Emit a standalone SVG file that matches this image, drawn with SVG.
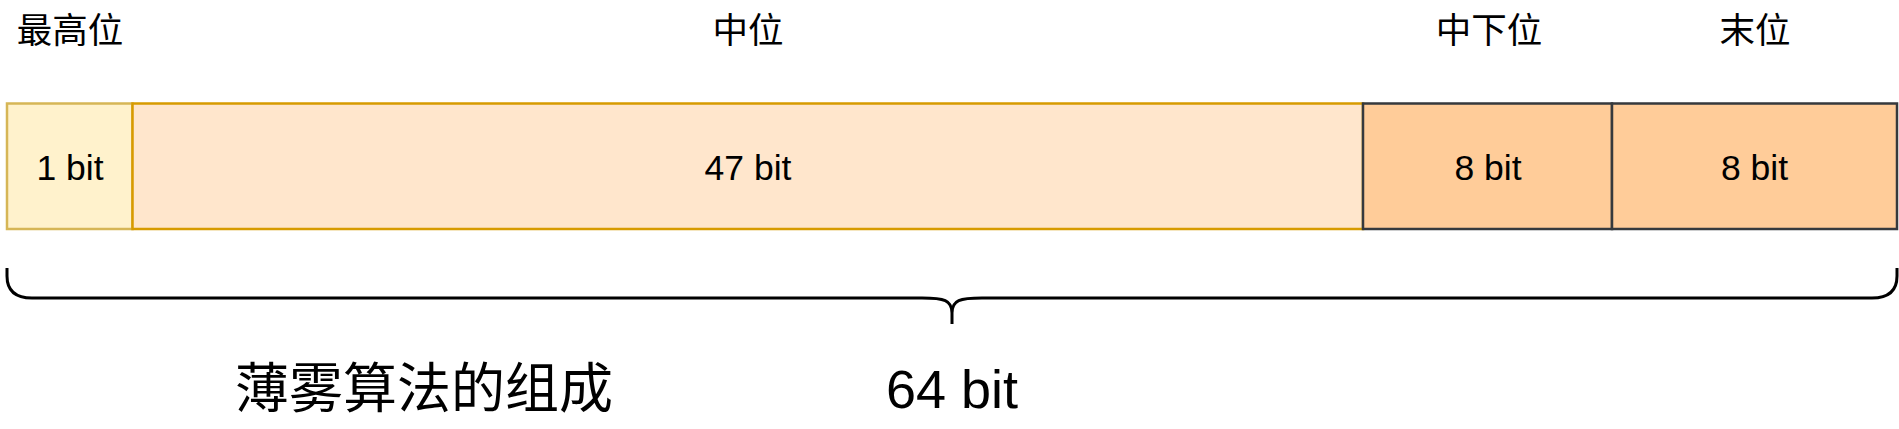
<svg xmlns="http://www.w3.org/2000/svg" width="1899" height="429" viewBox="0 0 1899 429">
  <style>
    .lbl { font-family: "Liberation Sans", "Noto Sans CJK SC", sans-serif; fill: #000; text-anchor: middle; }
    .cjk { font-family: "Noto Sans CJK SC", "Liberation Sans", sans-serif; fill: #000; text-anchor: middle; }
    .top { font-size: 35.5px; }
    .bit { font-size: 35.5px; }
    .big { font-size: 54px; }
    .b1 { fill: #fff2cc; stroke: #d6b656; stroke-width: 2.5; }
    .b2 { fill: #ffe6cc; stroke: #d79b00; stroke-width: 2.5; }
    .b3 { fill: #ffcc99; stroke: #36393d; stroke-width: 2.5; }
    .brace { fill: none; stroke: #000; stroke-width: 3; stroke-linecap: butt; stroke-linejoin: round; }
  </style>
  <rect width="1899" height="429" fill="#ffffff"/>
  <g id="label-top">
    <text class="cjk top" x="70" y="43">最高位</text>
    <text class="cjk top" x="748" y="43">中位</text>
    <text class="cjk top" x="1489" y="43">中下位</text>
    <text class="cjk top" x="1755" y="43">末位</text>
  </g>
  <g id="node-1bit">
    <rect class="b1" x="7" y="103.5" width="125.5" height="125.5"/>
    <text class="lbl bit" x="70" y="180">1 bit</text>
  </g>
  <g id="node-47bit">
    <rect class="b2" x="132.5" y="103.5" width="1230.5" height="125.5"/>
    <text class="lbl bit" x="748" y="180">47 bit</text>
  </g>
  <g id="node-8bit-a">
    <rect class="b3" x="1363" y="103.5" width="249" height="125.5"/>
    <text class="lbl bit" x="1488" y="180">8 bit</text>
  </g>
  <g id="node-8bit-b">
    <rect class="b3" x="1612" y="103.5" width="285" height="125.5"/>
    <text class="lbl bit" x="1754.5" y="180">8 bit</text>
  </g>
  <g id="connectors">
    <path class="brace" d="M 7 268 L 7 276 Q 7 298 32 298 L 922 298 C 944 298 952 300 952 313 L 952 324 M 952 313 C 952 300 960 298 982 298 L 1872 298 Q 1897 298 1897 276 L 1897 268"/>
  </g>
  <g id="label-bottom">
    <text class="cjk big" x="424" y="408">薄雾算法的组成</text>
    <text class="lbl big" x="952" y="408">64 bit</text>
  </g>
</svg>
